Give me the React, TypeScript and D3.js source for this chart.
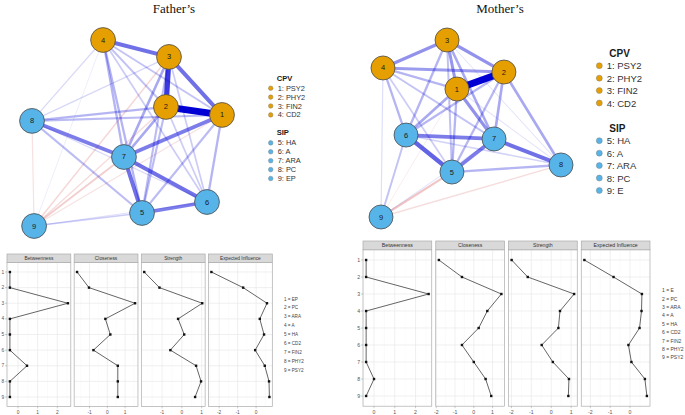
import React from 'react';
import * as d3 from 'd3';

// ---------- data ----------
const nodeIds = [1, 2, 3, 4, 5, 6, 7, 8, 9];
const nodeGroups = ['CPV', 'CPV', 'CPV', 'CPV', 'SIP', 'SIP', 'SIP', 'SIP', 'SIP'];
const groupColors: Record<string, string> = { CPV: '#E69F00', SIP: '#56B4E9' };

// spring layout coordinates (normalised 0..1)
const fatherLayoutX = [1.0, 0.705, 0.721, 0.374, 0.579, 0.921, 0.484, 0.0, 0.011];
const fatherLayoutY = [0.403, 0.36, 0.091, 0.0, 0.93, 0.871, 0.629, 0.435, 1.0];
const motherLayoutX = [0.422, 0.683, 0.367, 0.011, 0.394, 0.139, 0.628, 1.0, 0.0];
const motherLayoutY = [0.277, 0.181, 0.0, 0.158, 0.746, 0.537, 0.559, 0.706, 1.0];

// edges: [from, to, weight]
const fatherEdges: [number, number, number][] = [
  [1, 2, 1.0], [2, 3, 0.75], [1, 3, 0.55], [3, 4, 0.55], [1, 4, 0.22], [2, 4, 0.22],
  [7, 1, 0.5], [7, 6, 0.55], [7, 5, 0.55], [5, 6, 0.5], [8, 7, 0.5],
  [7, 3, 0.33], [7, 2, 0.33], [7, 4, 0.28],
  [5, 1, 0.25], [5, 2, 0.25], [5, 3, 0.25], [5, 4, 0.28],
  [6, 1, 0.28], [6, 2, 0.18], [6, 3, 0.18], [6, 4, 0.18],
  [8, 2, 0.28], [8, 1, 0.25], [8, 3, 0.13], [8, 4, 0.12], [8, 5, 0.25], [8, 6, 0.12],
  [9, 5, 0.18], [9, 6, 0.1], [9, 4, 0.04],
  [9, 7, -0.2], [9, 3, -0.15], [9, 2, -0.13], [9, 1, -0.1], [9, 8, -0.1],
];
const motherEdges: [number, number, number][] = [
  [1, 2, 1.0], [1, 3, 0.4], [1, 4, 0.28], [1, 5, 0.28], [1, 6, 0.33], [1, 7, 0.42], [1, 8, 0.07],
  [2, 3, 0.42], [2, 4, 0.38], [2, 5, 0.27], [2, 6, 0.27], [2, 7, 0.33], [2, 8, 0.33],
  [3, 4, 0.42], [3, 5, 0.23], [3, 6, 0.28], [3, 7, 0.33], [3, 8, 0.07],
  [4, 5, 0.18], [4, 6, 0.28], [4, 7, 0.22], [4, 9, 0.1],
  [5, 6, 0.6], [5, 7, 0.5], [5, 8, 0.28], [6, 7, 0.5], [6, 8, 0.15], [6, 9, 0.22],
  [7, 8, 0.55], [7, 9, 0.07],
  [5, 9, -0.25], [8, 9, -0.12], [1, 9, -0.05],
];

const fatherLegendCPV = ['1: PSY2', '2: PHY2', '3: FIN2', '4: CD2'];
const fatherLegendSIP = ['5: HA', '6: A', '7: ARA', '8: PC', '9: EP'];
const motherLegendCPV = ['1: PSY2', '2: PHY2', '3: FIN2', '4: CD2'];
const motherLegendSIP = ['5: HA', '6: A', '7: ARA', '8: PC', '9: E'];

const measures = ['Betweenness', 'Closeness', 'Strength', 'Expected Influence'];

const fatherBetweenness = [-0.41, -0.41, 2.54, -0.41, -0.41, -0.41, 0.46, -0.41, -0.41];
const fatherCloseness = [-1.7, -1.03, 1.56, -0.11, 0.17, -0.78, 0.59, 0.59, 0.59];
const fatherStrength = [-1.9, -1.13, 1.03, -0.19, 0.12, -0.58, 0.72, 0.97, 0.67];
const fatherInfluence = [-2.42, -0.7, 0.59, 0.2, 0.43, -0.05, 0.47, 0.7, 0.72];
const fatherTicks = [[0, 1, 2], [-1, 0, 1], [-1, 0, 1], [-2, -1, 0]];
const fatherCentralityLabels = ['1 = EP', '2 = PC', '3 = ARA', '4 = A', '5 = HA', '6 = CD2', '7 = FIN2', '8 = PHY2', '9 = PSY2'];

const motherBetweenness = [-0.38, -0.38, 2.63, -0.38, -0.38, -0.38, -0.38, 0.0, -0.38];
const motherCloseness = [-1.86, -0.63, 1.47, 0.72, 0.26, -0.63, 0.0, 0.63, 0.93];
const motherStrength = [-1.99, -1.18, 1.15, 0.44, 0.36, -0.48, 0.08, 0.89, 0.86];
const motherInfluence = [-2.3, -0.83, 0.6, 0.58, 0.48, -0.08, 0.07, 0.75, 0.85];
const motherTicks = [[0, 1, 2], [-2, -1, 0, 1], [-2, -1, 0, 1], [-2, -1, 0]];
const motherCentralityLabels = ['1 = E', '2 = PC', '3 = ARA', '4 = A', '5 = HA', '6 = CD2', '7 = FIN2', '8 = PHY2', '9 = PSY2'];

const SANS = '"Liberation Sans", Arial, sans-serif';
const SERIF = '"Liberation Serif", "Times New Roman", serif';

// ---------- network ----------
type NetProps = {
  xs: number[]; ys: number[]; edges: [number, number, number][];
  box: [number, number, number, number]; r: number; labelSize: number;
};
function Network({ xs, ys, edges, box, r, labelSize }: NetProps) {
  const x = d3.scaleLinear().domain([0, 1]).range([box[0], box[1]]);
  const y = d3.scaleLinear().domain([0, 1]).range([box[2], box[3]]);
  const width = d3.scaleLinear().domain([0, 1]).range([0.6, 6.8]);
  const alpha = d3.scalePow().exponent(1.15).domain([0, 1]).range([0.06, 1]).clamp(true);
  const sorted = [...edges].sort((a, b) => Math.abs(a[2]) - Math.abs(b[2]));
  return (
    <g>
      {sorted.map(([a, b, w], i) => (
        <line key={i}
          x1={x(xs[a - 1])} y1={y(ys[a - 1])} x2={x(xs[b - 1])} y2={y(ys[b - 1])}
          stroke={w > 0 ? '#0000D5' : '#BF0000'}
          strokeOpacity={alpha(Math.abs(w) * (w > 0 ? 1.05 : 0.9))}
          strokeWidth={width(Math.abs(w))} strokeLinecap="round" />
      ))}
      {nodeIds.map((id, i) => (
        <g key={id}>
          <circle cx={x(xs[i])} cy={y(ys[i])} r={r} fill={groupColors[nodeGroups[i]]}
            stroke="#4a4a4a" strokeWidth={0.8} />
          <text x={x(xs[i])} y={y(ys[i])} textAnchor="middle" dominantBaseline="central"
            fontFamily={SANS} fontSize={7.5} fill="#1a1a1a">{id}</text>
        </g>
      ))}
    </g>
  );
}

type LegProps = {
  titleX: number; dotX: number; textX: number; dotR: number;
  cpvY: number; sipY: number; firstOff: number; step: number;
  titleSize: number; itemSize: number; cpv: string[]; sip: string[];
};
function NetLegend(p: LegProps) {
  const block = (title: string, items: string[], y0: number, color: string) => {
    const y = d3.scaleLinear().domain([0, 1]).range([y0 + p.firstOff, y0 + p.firstOff + p.step]);
    return (
      <g>
        <text x={p.titleX} y={y0} dominantBaseline="central" fontFamily={SANS}
          fontWeight="bold" fontSize={p.titleSize} fill="#1a1a1a">{title}</text>
        {items.map((t, i) => (
          <g key={t}>
            <circle cx={p.dotX} cy={y(i)} r={p.dotR} fill={color} stroke="#777" strokeWidth={0.4} />
            <text x={p.textX} y={y(i)} dominantBaseline="central" fontFamily={SANS}
              fontSize={p.itemSize} fill="#333">{t}</text>
          </g>
        ))}
      </g>
    );
  };
  return (
    <g>
      {block('CPV', p.cpv, p.cpvY, groupColors.CPV)}
      {block('SIP', p.sip, p.sipY, groupColors.SIP)}
    </g>
  );
}

// ---------- centrality ----------
type CenProps = {
  left: number; right: number; pad: number; stripTop: number; panelTop: number; panelBottom: number;
  yFirst: number; yLast: number; values: number[][]; ticks: number[][]; labels: string[];
  legendX: number; legendY0: number; legendStep: number; fs: number; legendFs: number;
};
function Centrality(p: CenProps) {
  const band = d3.scaleBand().domain(measures).range([p.left, p.right]).paddingInner(p.pad);
  const y = d3.scalePoint<number>().domain(nodeIds).range([p.yFirst, p.yLast]);
  const bw = band.bandwidth();
  const ly = d3.scaleLinear().domain([0, 1]).range([p.legendY0, p.legendY0 + p.legendStep]);
  return (
    <g fontFamily={SANS}>
      {measures.map((m, k) => {
        const bx = band(m)!;
        const vals = p.values[k];
        const [mn, mx] = d3.extent(vals) as [number, number];
        const ex = (mx - mn) * 0.05;
        const x = d3.scaleLinear().domain([mn - ex, mx + ex]).range([bx, bx + bw]);
        const tk = p.ticks[k];
        const minor: number[] = [];
        const stepT = tk.length > 1 ? tk[1] - tk[0] : 1;
        for (let t = tk[0] - stepT / 2; t <= tk[tk.length - 1] + stepT / 2 + 1e-9; t += stepT) {
          if (t > mn - ex && t < mx + ex) minor.push(t);
        }
        const line = d3.line<number>().x((v) => x(v)).y((_, i) => y(nodeIds[i])!);
        return (
          <g key={m}>
            <rect x={bx} y={p.panelTop} width={bw} height={p.panelBottom - p.panelTop} fill="#fff" />
            {minor.map((t) => (
              <line key={'mi' + t} x1={x(t)} x2={x(t)} y1={p.panelTop} y2={p.panelBottom}
                stroke="#F4F4F4" strokeWidth={0.4} />
            ))}
            {tk.map((t) => (
              <line key={'ma' + t} x1={x(t)} x2={x(t)} y1={p.panelTop} y2={p.panelBottom}
                stroke="#E6E6E6" strokeWidth={0.6} />
            ))}
            {nodeIds.map((id) => (
              <line key={'h' + id} x1={bx} x2={bx + bw} y1={y(id)} y2={y(id)}
                stroke="#E6E6E6" strokeWidth={0.6} />
            ))}
            <rect x={bx} y={p.panelTop} width={bw} height={p.panelBottom - p.panelTop}
              fill="none" stroke="#ABABAB" strokeWidth={0.7} />
            <rect x={bx} y={p.stripTop} width={bw} height={p.panelTop - p.stripTop}
              fill="#D9D9D9" stroke="#ABABAB" strokeWidth={0.7} />
            <text x={bx + bw / 2} y={(p.stripTop + p.panelTop) / 2} textAnchor="middle"
              dominantBaseline="central" fontSize={p.fs} fill="#333">{m}</text>
            <path d={line(vals)!} fill="none" stroke="#222" strokeWidth={0.7} />
            {vals.map((v, i) => (
              <rect key={i} x={x(v) - 1.2} y={y(nodeIds[i])! - 1.2} width={2.4} height={2.4} fill="#111" />
            ))}
            {tk.map((t) => (
              <g key={'t' + t}>
                <line x1={x(t)} x2={x(t)} y1={p.panelBottom} y2={p.panelBottom + 2} stroke="#999" strokeWidth={0.5} />
                <text x={x(t)} y={p.panelBottom + 6} textAnchor="middle" dominantBaseline="central"
                  fontSize={p.fs} fill="#555">{t < 0 ? '-' + Math.abs(t) : String(t)}</text>
              </g>
            ))}
            {k === 0 && nodeIds.map((id) => (
              <g key={'y' + id}>
                <line x1={bx - 2} x2={bx} y1={y(id)} y2={y(id)} stroke="#999" strokeWidth={0.5} />
                <text x={bx - 2.8} y={y(id)} textAnchor="end" dominantBaseline="central"
                  fontSize={p.fs} fill="#555">{id}</text>
              </g>
            ))}
          </g>
        );
      })}
      {p.labels.map((t, i) => (
        <text key={t} x={p.legendX} y={ly(i)} dominantBaseline="central" fontSize={p.legendFs} fill="#444">{t}</text>
      ))}
    </g>
  );
}

export default function App() {
  return (
    <svg width={685} height={415} viewBox="0 0 685 415"
      style={{ position: 'absolute', left: 0, top: 0, background: '#fff' }}>
      <rect width={685} height={415} fill="#fff" />
      <text x={174} y={13} textAnchor="middle" fontFamily={SERIF} fontSize={13} fill="#111">Father’s</text>
      <text x={500} y={13} textAnchor="middle" fontFamily={SERIF} fontSize={13} fill="#111">Mother’s</text>

      <Network xs={fatherLayoutX} ys={fatherLayoutY} edges={fatherEdges}
        box={[32, 222, 40, 226]} r={12.4} labelSize={7.5} />
      <NetLegend titleX={276.7} dotX={270.7} textX={277.7} dotR={2.3}
        cpvY={78} sipY={132.7} firstOff={10.2} step={8.9}
        titleSize={7.6} itemSize={7.4} cpv={fatherLegendCPV} sip={fatherLegendSIP} />

      <Network xs={motherLayoutX} ys={motherLayoutY} edges={motherEdges}
        box={[381, 561, 40, 217]} r={12} labelSize={7.5} />
      <NetLegend titleX={609.3} dotX={599.3} textX={606.7} dotR={3}
        cpvY={53.3} sipY={128.3} firstOff={12.4} step={12.45}
        titleSize={10} itemSize={9.5} cpv={motherLegendCPV} sip={motherLegendSIP} />

      <Centrality left={7} right={272.3} pad={0.05} stripTop={254} panelTop={262.6} panelBottom={406.4}
        yFirst={272} yLast={397}
        values={[fatherBetweenness, fatherCloseness, fatherStrength, fatherInfluence]}
        ticks={fatherTicks} labels={fatherCentralityLabels}
        legendX={284} legendY0={299} legendStep={8.96} fs={4.8} legendFs={4.6} />

      <Centrality left={363} right={650} pad={0.055} stripTop={241} panelTop={249.8} panelBottom={406.2}
        yFirst={260} yLast={396}
        values={[motherBetweenness, motherCloseness, motherStrength, motherInfluence]}
        ticks={motherTicks} labels={motherCentralityLabels}
        legendX={662} legendY0={290.3} legendStep={8.375} fs={5.2} legendFs={5} />
    </svg>
  );
}
